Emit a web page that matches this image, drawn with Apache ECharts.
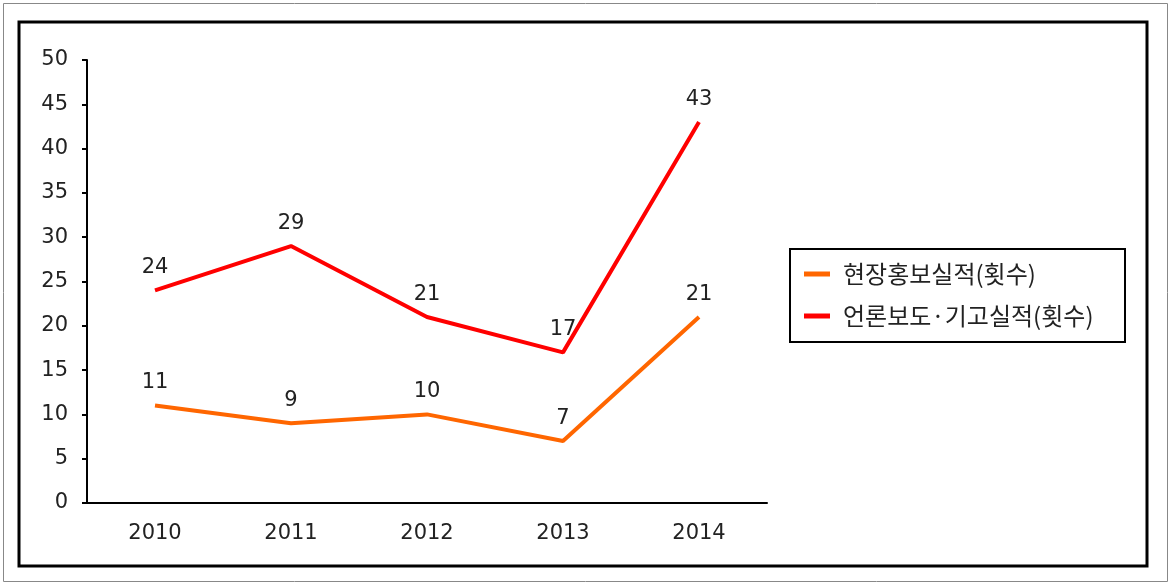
<!DOCTYPE html>
<html>
<head>
<meta charset="utf-8">
<script src="https://cdn.jsdelivr.net/npm/echarts@6/dist/echarts.min.js"></script>
<style>
  html, body { margin: 0; padding: 0; background: #fff; }
  #chart { width: 1175px; height: 584px; }
</style>
</head>
<body>
<div id="chart"></div>
<script>
// data
var years = ['2010', '2011', '2012', '2013', '2014'];
var fieldPromo = [11, 9, 10, 7, 21];     // 현장홍보실적(횟수)
var pressArticles = [24, 29, 21, 17, 43]; // 언론보도·기고실적(횟수)
var seriesNames = ['현장홍보실적(횟수)', '언론보도·기고실적(횟수)'];

var numFont = "'DejaVu Sans', sans-serif";
var krFont = "'Noto Sans CJK KR', sans-serif";
var chart = echarts.init(document.getElementById('chart'));

function lineSeries(name, data, color) {
    return {
        name: name, type: 'line', data: data,
        symbol: 'circle', symbolSize: 0.01, showSymbol: true,
        itemStyle: { color: color },
        lineStyle: { color: color, width: 4 },
        label: {
            show: true, position: 'top', distance: 12,
            fontSize: 21, color: '#222', fontFamily: numFont
        }
    };
}

var option = {
    animation: false,
    textStyle: { fontFamily: numFont },
    graphic: [
        { type: 'rect', shape: { x: 3.5, y: 3.5, width: 1164, height: 578 },
          style: { fill: 'none', stroke: '#888', lineWidth: 1 } },
        { type: 'rect', shape: { x: 19, y: 22, width: 1128, height: 544 },
          style: { fill: 'none', stroke: '#000', lineWidth: 3 } },
        { type: 'rect', shape: { x: 790, y: 249, width: 335, height: 93 },
          style: { fill: 'none', stroke: '#000', lineWidth: 2 } }
    ],
    grid: { left: 87, right: 408, top: 60, bottom: 81 },
    legend: {
        orient: 'vertical',
        left: 804, top: 262,
        padding: 0,
        itemGap: 18,
        itemWidth: 26, itemHeight: 5,
        textStyle: { fontSize: 24, color: '#222', fontFamily: krFont, padding: [0, 0, 0, 8] },
        data: seriesNames.map(function (n) { return { name: n, icon: 'rect' }; })
    },
    xAxis: {
        type: 'category',
        data: years,
        boundaryGap: true,
        axisLine: { lineStyle: { color: '#000', width: 2 } },
        axisTick: { show: false },
        axisLabel: { fontSize: 21, color: '#222', margin: 20, fontFamily: numFont }
    },
    yAxis: {
        type: 'value',
        min: 0, max: 50, interval: 5,
        axisLine: { show: true, lineStyle: { color: '#000', width: 2 } },
        axisTick: { show: true, length: 5, lineStyle: { color: '#000', width: 2 } },
        splitLine: { show: false },
        axisLabel: { fontSize: 21, color: '#222', margin: 19, fontFamily: numFont }
    },
    series: [
        lineSeries(seriesNames[0], fieldPromo, '#FF6600'),
        lineSeries(seriesNames[1], pressArticles, '#FF0000')
    ]
};
chart.setOption(option);
</script>
</body>
</html>
